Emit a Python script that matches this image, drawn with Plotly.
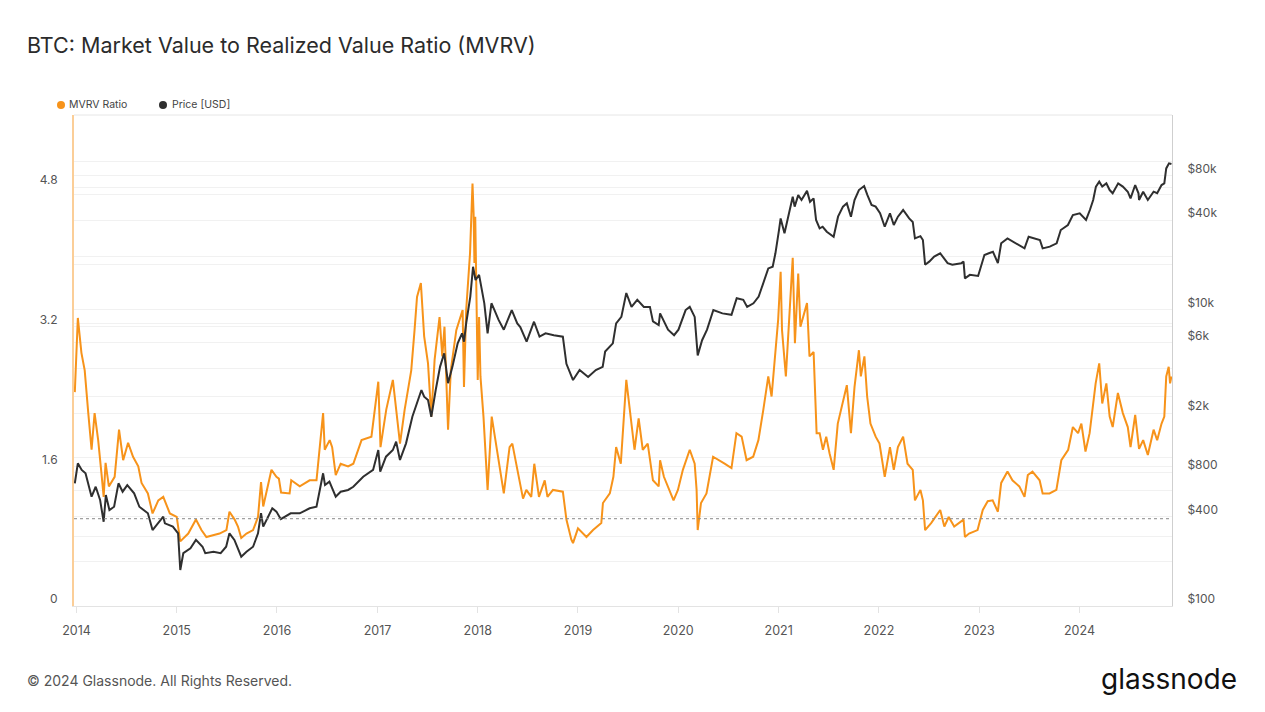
import plotly.graph_objects as go

# ---------------- data ----------------
mvrv_dates = [
    "2013-12-26","2014-01-06","2014-01-19","2014-01-31","2014-02-13","2014-02-25","2014-03-08","2014-03-21",
    "2014-04-02","2014-04-10","2014-04-17","2014-04-29","2014-05-20","2014-06-05","2014-06-20","2014-07-08",
    "2014-07-26","2014-08-14","2014-08-26","2014-09-18","2014-10-05","2014-10-26","2014-11-13","2014-12-07",
    "2015-01-01","2015-01-14","2015-02-12","2015-03-12","2015-04-01","2015-04-19","2015-05-13","2015-06-06",
    "2015-07-01","2015-07-12","2015-07-31","2015-08-12","2015-08-24","2015-09-12","2015-10-06","2015-10-24",
    "2015-11-04","2015-11-12","2015-12-12","2015-12-30","2016-01-08","2016-01-16","2016-02-16","2016-02-22",
    "2016-03-24","2016-04-29","2016-05-24","2016-06-05","2016-06-17","2016-06-23","2016-07-11","2016-07-20",
    "2016-08-02","2016-08-20","2016-09-16","2016-10-05","2016-11-04","2016-12-10","2016-12-26","2017-01-04",
    "2017-01-12","2017-02-02","2017-02-26","2017-03-07","2017-03-24","2017-04-10","2017-05-04","2017-05-16",
    "2017-05-25","2017-06-08","2017-06-20","2017-07-04","2017-07-16","2017-07-28","2017-08-15","2017-08-25",
    "2017-09-02","2017-09-15","2017-09-25","2017-10-15","2017-11-07","2017-11-12","2017-11-20","2017-12-04",
    "2017-12-13","2017-12-17","2017-12-20","2017-12-23","2017-12-28","2018-01-01","2018-01-06","2018-01-11",
    "2018-01-22","2018-02-06","2018-02-21","2018-03-05","2018-03-22","2018-04-06","2018-04-27","2018-05-07",
    "2018-05-28","2018-06-15","2018-06-27","2018-07-15","2018-07-26","2018-08-12","2018-09-02","2018-09-12",
    "2018-10-02","2018-11-07","2018-11-20","2018-12-08","2018-12-14","2019-01-01","2019-02-01","2019-02-25",
    "2019-03-27","2019-04-02","2019-04-27","2019-05-10","2019-05-20","2019-06-06","2019-06-26","2019-07-14",
    "2019-07-26","2019-08-10","2019-08-25","2019-09-12","2019-10-01","2019-10-22","2019-10-27","2019-11-10",
    "2019-12-15","2019-12-31","2020-01-18","2020-02-12","2020-03-01","2020-03-08","2020-03-12","2020-03-24",
    "2020-04-13","2020-05-07","2020-05-26","2020-06-18","2020-07-13","2020-07-31","2020-08-19","2020-09-06",
    "2020-09-30","2020-10-19","2020-11-06","2020-11-24","2020-12-06","2020-12-18","2020-12-30","2021-01-08",
    "2021-01-13","2021-01-27","2021-02-10","2021-02-21","2021-03-01","2021-03-13","2021-03-21","2021-04-05",
    "2021-04-14","2021-04-23","2021-05-08","2021-05-19","2021-05-30","2021-06-11","2021-06-23","2021-07-05",
    "2021-07-20","2021-08-04","2021-08-23","2021-09-06","2021-09-21","2021-10-04","2021-10-20","2021-10-27",
    "2021-11-09","2021-11-19","2021-12-01","2021-12-20","2022-01-03","2022-01-22","2022-02-10","2022-02-24",
    "2022-03-11","2022-03-30","2022-04-15","2022-05-04","2022-05-12","2022-06-01","2022-06-10","2022-06-18",
    "2022-07-10","2022-08-12","2022-08-27","2022-09-12","2022-10-02","2022-11-05","2022-11-10","2022-11-25",
    "2022-12-26","2023-01-14","2023-02-01","2023-02-19","2023-03-10","2023-03-22","2023-04-14","2023-05-02",
    "2023-05-27","2023-06-15","2023-06-27","2023-07-14","2023-08-09","2023-08-20","2023-09-14","2023-10-09",
    "2023-10-27","2023-11-21","2023-12-08","2023-12-27","2024-01-08","2024-01-23","2024-02-07","2024-02-20",
    "2024-02-29","2024-03-13","2024-03-18","2024-03-24","2024-04-08","2024-04-20","2024-05-01","2024-05-20",
    "2024-06-07","2024-06-25","2024-07-05","2024-07-22","2024-08-05","2024-08-20","2024-09-06","2024-09-27",
    "2024-10-10","2024-10-26","2024-11-05","2024-11-12","2024-11-21","2024-11-26","2024-12-01",
]
mvrv_values = [
    2.45,3.30,2.90,2.70,2.21,1.79,2.21,1.90,
    1.52,1.25,1.64,1.37,1.48,2.02,1.67,1.87,
    1.71,1.60,1.41,1.29,1.06,1.21,1.25,1.06,
    1.02,0.74,0.83,0.99,0.87,0.79,0.81,0.83,
    0.87,1.08,0.99,0.91,0.78,0.83,0.87,1.02,
    1.42,1.14,1.56,1.48,1.46,1.30,1.29,1.44,
    1.37,1.44,1.44,1.79,2.21,1.79,1.90,1.82,
    1.50,1.63,1.60,1.63,1.90,1.94,2.32,2.57,
    1.82,2.25,2.59,2.32,1.86,2.25,2.70,3.16,
    3.54,3.70,3.09,2.78,2.17,2.82,3.31,2.86,
    3.20,2.02,2.70,3.16,3.39,2.51,3.39,4.04,
    4.84,4.50,3.93,4.46,3.09,2.59,3.31,2.63,
    2.17,1.33,2.17,1.94,1.63,1.29,1.82,1.86,
    1.52,1.23,1.33,1.25,1.63,1.25,1.44,1.25,
    1.33,1.31,0.99,0.76,0.72,0.89,0.79,0.87,
    0.95,1.18,1.29,1.48,1.82,1.63,2.59,2.09,
    1.79,2.15,1.79,1.86,1.44,1.37,1.67,1.48,
    1.21,1.33,1.56,1.79,1.63,1.33,0.87,1.18,
    1.29,1.71,1.67,1.63,1.58,1.98,1.94,1.67,
    1.71,1.90,2.25,2.63,2.40,2.86,3.28,3.83,
    3.16,2.63,3.47,3.99,3.01,3.81,3.20,3.39,
    3.47,2.86,2.91,1.98,1.98,1.79,1.94,1.75,
    1.56,2.09,2.36,2.53,1.98,2.51,2.93,2.63,
    2.86,2.40,2.09,1.94,1.86,1.48,1.82,1.56,
    1.82,1.94,1.63,1.56,1.21,1.33,1.21,0.87,
    0.95,1.10,0.91,1.02,0.91,0.99,0.79,0.83,
    0.87,1.10,1.20,1.21,1.08,1.41,1.54,1.44,
    1.37,1.25,1.50,1.54,1.44,1.29,1.29,1.33,
    1.67,1.79,2.05,1.98,2.09,1.77,1.98,2.28,
    2.55,2.78,2.55,2.32,2.55,2.17,2.05,2.44,
    2.21,2.05,1.82,2.19,1.80,1.90,1.73,2.02,
    1.90,2.09,2.17,2.63,2.74,2.55,2.63,
]

price_dates = [
    "2013-12-26","2014-01-06","2014-01-20","2014-02-03","2014-02-25","2014-03-12","2014-03-28","2014-04-10",
    "2014-04-18","2014-05-01","2014-05-18","2014-06-03","2014-06-18","2014-07-05","2014-07-30","2014-08-18",
    "2014-09-18","2014-10-05","2014-11-13","2014-11-19","2014-12-18","2015-01-06","2015-01-14","2015-01-25",
    "2015-02-20","2015-03-12","2015-04-05","2015-04-15","2015-05-15","2015-06-10","2015-06-30","2015-07-12",
    "2015-07-30","2015-08-24","2015-09-12","2015-10-06","2015-10-24","2015-11-04","2015-11-12","2015-12-15",
    "2015-12-30","2016-01-15","2016-02-20","2016-03-24","2016-04-29","2016-05-24","2016-06-05","2016-06-17",
    "2016-06-24","2016-07-10","2016-08-02","2016-08-20","2016-09-16","2016-10-05","2016-11-10","2016-12-16",
    "2017-01-04","2017-01-11","2017-02-01","2017-02-26","2017-03-10","2017-03-24","2017-04-15","2017-05-08",
    "2017-06-10","2017-06-20","2017-07-04","2017-07-16","2017-08-01","2017-08-17","2017-09-01","2017-09-15",
    "2017-10-01","2017-10-20","2017-11-05","2017-11-12","2017-11-20","2017-12-05","2017-12-15","2017-12-24",
    "2018-01-06","2018-01-16","2018-01-25","2018-02-06","2018-02-20","2018-03-03","2018-03-18","2018-04-06",
    "2018-05-05","2018-05-25","2018-06-05","2018-06-28","2018-07-25","2018-08-14","2018-09-05","2018-10-05",
    "2018-11-07","2018-11-20","2018-12-14","2019-01-07","2019-02-07","2019-03-07","2019-04-01","2019-04-10",
    "2019-05-08","2019-05-20","2019-06-08","2019-06-26","2019-07-15","2019-08-05","2019-08-29","2019-09-20",
    "2019-10-01","2019-10-22","2019-10-27","2019-11-25","2019-12-17","2020-01-02","2020-01-28","2020-02-12",
    "2020-03-01","2020-03-12","2020-03-28","2020-04-15","2020-05-08","2020-06-10","2020-07-13","2020-08-01",
    "2020-08-25","2020-09-08","2020-10-01","2020-10-20","2020-11-10","2020-11-24","2020-12-10","2020-12-20",
    "2021-01-02","2021-01-08","2021-01-22","2021-02-01","2021-02-15","2021-02-21","2021-02-28","2021-03-13",
    "2021-03-25","2021-04-14","2021-04-25","2021-05-08","2021-05-17","2021-05-30","2021-06-10","2021-06-25",
    "2021-07-20","2021-08-05","2021-08-23","2021-09-06","2021-09-21","2021-10-04","2021-10-20","2021-11-08",
    "2021-11-20","2021-12-05","2021-12-20","2022-01-05","2022-01-22","2022-02-10","2022-02-24","2022-03-11",
    "2022-03-30","2022-04-21","2022-05-04","2022-05-12","2022-06-01","2022-06-10","2022-06-18","2022-07-03",
    "2022-07-21","2022-08-12","2022-09-08","2022-09-25","2022-10-28","2022-11-05","2022-11-10","2022-11-28",
    "2022-12-28","2023-01-20","2023-02-05","2023-02-20","2023-03-10","2023-03-22","2023-04-14","2023-05-05",
    "2023-05-27","2023-06-15","2023-06-30","2023-07-20","2023-08-10","2023-08-20","2023-09-15","2023-10-10",
    "2023-10-25","2023-11-20","2023-12-08","2024-01-02","2024-01-25","2024-02-08","2024-02-20","2024-03-01",
    "2024-03-13","2024-03-24","2024-04-08","2024-04-20","2024-05-01","2024-05-21","2024-06-07","2024-06-25",
    "2024-07-05","2024-07-22","2024-08-03","2024-08-05","2024-08-20","2024-09-06","2024-09-27","2024-10-10",
    "2024-10-26","2024-11-05","2024-11-12","2024-11-22","2024-12-01",
]
price_values = [
    672,916,827,785,546,637,519,370,
    560,444,467,672,590,654,575,467,
    422,325,400,361,343,309,175,227,
    245,279,251,227,232,227,251,309,
    279,215,232,251,309,422,343,456,
    433,385,422,422,456,467,606,785,
    654,689,546,590,606,637,744,827,
    1127,805,1016,1127,1282,966,1250,1888,
    2861,2578,2448,1888,2861,4114,5058,3178,
    4114,5900,6900,6057,8050,12200,19400,15800,
    17100,13500,11000,6900,11000,9900,8500,7300,
    9900,8050,7600,6060,8260,6550,6900,6700,
    6550,4300,3340,3900,3500,3900,4100,5200,
    5900,8050,8900,12900,10400,11600,10400,10400,
    8300,7850,9400,7300,6700,7300,9900,10400,
    8900,4900,6200,7300,9900,9400,9200,11900,
    11600,10400,11000,12200,15800,18900,19400,23900,
    34300,41100,32600,40100,51900,57500,49300,59000,
    54700,63000,53200,56100,40100,35200,36100,33400,
    30900,42200,49300,51900,42200,54700,63800,67900,
    59000,50600,49300,44500,36100,44500,37100,42200,
    46800,41100,38900,30100,31200,29400,20000,21000,
    22700,23900,20500,20000,20500,21000,16200,17100,
    16800,23300,23900,24500,20500,27900,30100,28600,
    27200,25800,30900,30100,29400,25800,26500,27900,
    34300,37100,43300,44500,40100,46800,54700,67300,
    72700,67300,70800,63800,60700,70800,67300,62200,
    56100,69000,60700,54700,62200,54700,62200,60700,
    69000,70800,89300,96600,95500,
]

year_ticks = ["2014-01-01","2015-01-01","2016-01-01","2017-01-01","2018-01-01","2019-01-01",
              "2020-01-01","2021-01-01","2022-01-01","2023-01-01","2024-01-01"]
year_labels = ["2014","2015","2016","2017","2018","2019","2020","2021","2022","2023","2024"]

mvrv_grid = [0, 0.8, 1.6, 2.4, 3.2, 4.0, 4.8]
mvrv_grid_labels = ["0", "", "1.6", "", "3.2", "", "4.8"]

price_grid = [100, 200, 400, 600, 800, 1000, 2000, 4000, 6000, 8000,
              10000, 20000, 40000, 60000, 80000, 100000]
price_grid_labels = ["$100", "", "$400", "", "$800", "", "$2k", "", "$6k", "",
                     "$10k", "", "$40k", "", "$80k", ""]

ORANGE = "#f7931a"
DARK = "#2f2f2f"
FONT = "Inter, Roboto, 'Noto Sans', sans-serif"

fig = go.Figure()
fig.add_trace(go.Scatter(x=mvrv_dates, y=mvrv_values, mode="lines", name="MVRV Ratio",
                         line=dict(color=ORANGE, width=2), yaxis="y", showlegend=False))
fig.add_trace(go.Scatter(x=price_dates, y=price_values, mode="lines", name="Price [USD]",
                         line=dict(color=DARK, width=2), yaxis="y2", showlegend=False))

L, R, T, B = 74, 93, 115, 106
W, H = 1265, 712
PW, PH = W - L - R, H - T - B

def px(xp):
    return (xp - L) / PW

def py(yp):
    return (H - B - yp) / PH

fig.update_layout(
    width=W, height=H,
    margin=dict(l=L, r=R, t=T, b=B, pad=0),
    paper_bgcolor="white", plot_bgcolor="white",
    font=dict(family=FONT, size=12, color="#555555"),
    hovermode=False,
    xaxis=dict(
        type="date", range=["2013-12-23", "2024-12-03"],
        tickvals=year_ticks, ticktext=year_labels,
        showgrid=False, zeroline=False,
        showline=True, linecolor="#e3e3e3", linewidth=1,
        ticks="outside", ticklen=6, tickcolor="#e3e3e3",
        ticklabelstandoff=7,
        tickfont=dict(size=12.5, color="#555555"),
    ),
    yaxis=dict(
        range=[0, 5.625], tickvals=mvrv_grid, ticktext=mvrv_grid_labels,
        showgrid=True, gridcolor="#f1f1f1", gridwidth=1, zeroline=False,
        showline=True, linecolor="rgba(247,147,26,0.45)", linewidth=2,
        ticks="", ticklabelstandoff=12, ticklabelshift=-7,
        tickfont=dict(size=12, color="#555555"),
    ),
    yaxis2=dict(
        type="log", range=[2, 5.311], overlaying="y", side="right",
        tickvals=price_grid, ticktext=price_grid_labels,
        showgrid=True, gridcolor="#f1f1f1", gridwidth=1, zeroline=False,
        showline=True, linecolor="#cfcfcf", linewidth=1,
        ticks="", ticklabelstandoff=12, ticklabelshift=-7,
        tickfont=dict(size=12, color="#555555"),
    ),
    shapes=[
        dict(type="line", xref="paper", yref="paper", x0=0, x1=1, y0=1, y1=1,
             line=dict(color="#e6e6e6", width=1)),
        dict(type="line", xref="paper", yref="y", x0=0, x1=1, y0=1, y1=1,
             line=dict(color="#8a8a8a", width=1, dash="dot")),
        dict(type="circle", xref="paper", yref="paper", xsizemode="pixel", ysizemode="pixel",
             xanchor=px(61), yanchor=py(105), x0=-4, x1=4, y0=-4, y1=4,
             fillcolor=ORANGE, line=dict(width=0)),
        dict(type="circle", xref="paper", yref="paper", xsizemode="pixel", ysizemode="pixel",
             xanchor=px(163), yanchor=py(105), x0=-4, x1=4, y0=-4, y1=4,
             fillcolor=DARK, line=dict(width=0)),
    ],
    annotations=[
        dict(text="BTC: Market Value to Realized Value Ratio (MVRV)", xref="paper", yref="paper",
             x=px(25), y=py(45), xanchor="left", yanchor="middle", showarrow=False,
             font=dict(size=21.5, color="#2b2b2b", family=FONT)),
        dict(text="MVRV Ratio", xref="paper", yref="paper", x=px(67), y=py(105),
             xanchor="left", yanchor="middle", showarrow=False,
             font=dict(size=10.5, color="#444444", family=FONT)),
        dict(text="Price [USD]", xref="paper", yref="paper", x=px(170), y=py(105),
             xanchor="left", yanchor="middle", showarrow=False,
             font=dict(size=10.5, color="#444444", family=FONT)),
        dict(text="© 2024 Glassnode. All Rights Reserved.", xref="paper", yref="paper",
             x=px(25), y=py(680), xanchor="left", yanchor="middle", showarrow=False,
             font=dict(size=14, color="#555555", family=FONT)),
        dict(text="glassnode", xref="paper", yref="paper",
             x=px(1239), y=py(679), xanchor="right", yanchor="middle", showarrow=False,
             font=dict(size=28, color="#111111", family=FONT)),
    ],
)

fig.write_html("out.html", config={"displayModeBar": False},
               post_script="document.body.style.margin='0';document.body.style.overflow='hidden';")
